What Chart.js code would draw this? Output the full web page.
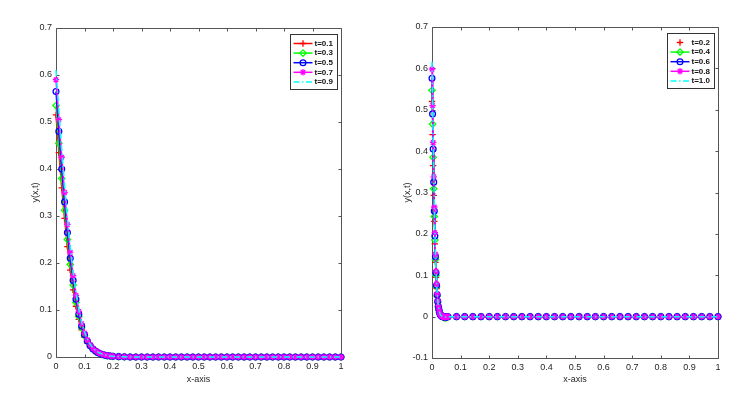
<!DOCTYPE html>
<html>
<head>
<meta charset="utf-8">
<script src="https://cdn.jsdelivr.net/npm/chart.js@4.4.0/dist/chart.umd.min.js"></script>
<style>
  body { margin: 0; background: #fff; }
  #wrap { position: relative; width: 752px; height: 397px; }
  canvas { position: absolute; top: 0; }
</style>
</head>
<body>
<div id="wrap">
  <canvas id="leftChart" width="376" height="397" style="left:0"></canvas>
  <canvas id="rightChart" width="376" height="397" style="left:376px"></canvas>
</div>
<script>
// ---- left panel (t = 0.1 ... 0.9) ----
const xLeft = [0,0.01,0.02,0.03,0.04,0.05,0.06,0.07,0.08,0.09,0.1,0.11,0.12,0.13,0.14,0.15,0.16,0.17,0.18,0.19,0.2,
  0.22,0.24,0.26,0.28,0.3,0.32,0.34,0.36,0.38,0.4,0.42,0.44,0.46,0.48,0.5,0.52,0.54,0.56,0.58,0.6,
  0.62,0.64,0.66,0.68,0.7,0.72,0.74,0.76,0.78,0.8,0.82,0.84,0.86,0.88,0.9,0.92,0.94,0.96,0.98,1];
const labelsLeft = ['t=0.1', 't=0.3', 't=0.5', 't=0.7', 't=0.9'];
const yLeft01 = [0.515,0.435,0.36,0.295,0.235,0.185,0.143,0.108,0.080,0.058,0.042,0.030,0.021,0.015,0.010,0.007,0.005,0.0035,0.0024,0.0017,0.0012,0.0006,0.0003,0.0001,
  0,0,0,0,0,0,0,0,0,0,0,0,0,0,0,0,0,0,0,0,0,0,0,0,0,0,0,0,0,0,0,0,0,0,0,0,0];
const yLeft03 = [0.535,0.455,0.38,0.312,0.25,0.197,0.153,0.116,0.086,0.062,0.045,0.032,0.023,0.016,0.011,0.008,0.0055,0.0038,0.0026,0.0018,0.0013,0.0006,0.0003,0.0001,
  0,0,0,0,0,0,0,0,0,0,0,0,0,0,0,0,0,0,0,0,0,0,0,0,0,0,0,0,0,0,0,0,0,0,0,0,0];
const yLeft05 = [0.565,0.48,0.40,0.33,0.265,0.21,0.163,0.123,0.091,0.066,0.048,0.034,0.024,0.017,0.012,0.0085,0.006,0.0042,0.0029,0.002,0.0014,0.0007,0.0003,0.0001,
  0,0,0,0,0,0,0,0,0,0,0,0,0,0,0,0,0,0,0,0,0,0,0,0,0,0,0,0,0,0,0,0,0,0,0,0,0];
const yLeft07 = [0.59,0.505,0.425,0.35,0.282,0.223,0.173,0.131,0.097,0.071,0.051,0.036,0.026,0.018,0.013,0.009,0.0064,0.0045,0.0031,0.0021,0.0015,0.0007,0.0004,0.0001,
  0,0,0,0,0,0,0,0,0,0,0,0,0,0,0,0,0,0,0,0,0,0,0,0,0,0,0,0,0,0,0,0,0,0,0,0,0];
const yLeft09 = [0.61,0.525,0.443,0.366,0.295,0.233,0.181,0.137,0.102,0.074,0.053,0.038,0.027,0.019,0.013,0.0095,0.0067,0.0047,0.0032,0.0022,0.0016,0.0008,0.0004,0.0001,
  0,0,0,0,0,0,0,0,0,0,0,0,0,0,0,0,0,0,0,0,0,0,0,0,0,0,0,0,0,0,0,0,0,0,0,0,0];

// ---- right panel (t = 0.2 ... 1.0) ----
const xRight = [0,0.002,0.004,0.006,0.008,0.01,0.012,0.014,0.016,0.018,0.02,0.022,0.024,0.026,0.028,0.03,
  0.032,0.034,0.036,0.038,0.04,0.042,0.044,0.046,0.048,0.05,0.052,0.054,0.056,
  0.0857,0.1143,0.1429,0.1714,0.2,0.2286,0.2571,0.2857,0.3143,0.3429,0.3714,0.4,0.4286,0.4571,0.4857,0.5143,
  0.5429,0.5714,0.6,0.6286,0.6571,0.6857,0.7143,0.7429,0.7714,0.8,0.8286,0.8571,0.8857,0.9143,0.9429,0.9714,1];
const labelsRight = ['t=0.2', 't=0.4', 't=0.6', 't=0.8', 't=1.0'];
const yRight02 = [0.52,0.44,0.365,0.293,0.23,0.176,0.131,0.095,0.068,0.048,0.033,0.022,0.015,0.010,0.006,0.0036,0.0022,0.0011,0.0004,-0.0002,
  -0.0005,-0.0008,-0.0009,-0.0009,-0.0008,-0.0006,-0.0004,-0.0003,-0.0002,
  0,0,0,0,0,0,0,0,0,0,0,0,0,0,0,0,0,0,0,0,0,0,0,0,0,0,0,0,0,0,0,0,0];
const yRight04 = [0.547,0.465,0.385,0.309,0.242,0.185,0.138,0.1,0.072,0.05,0.035,0.024,0.016,0.010,0.0066,0.0038,0.0024,0.0011,0.0004,-0.0008,
  -0.0015,-0.002,-0.0025,-0.0025,-0.0022,-0.0018,-0.0012,-0.0008,-0.0004,
  0,0,0,0,0,0,0,0,0,0,0,0,0,0,0,0,0,0,0,0,0,0,0,0,0,0,0,0,0,0,0,0,0];
const yRight06 = [0.576,0.49,0.405,0.325,0.255,0.195,0.145,0.106,0.076,0.053,0.037,0.025,0.017,0.011,0.007,0.004,0.0025,0.0012,0.0004,-0.0002,
  -0.0006,-0.0009,-0.001,-0.001,-0.0009,-0.0007,-0.0005,-0.0003,-0.0002,
  0,0,0,0,0,0,0,0,0,0,0,0,0,0,0,0,0,0,0,0,0,0,0,0,0,0,0,0,0,0,0,0,0];
const yRight08 = [0.598,0.51,0.421,0.338,0.265,0.203,0.151,0.11,0.079,0.055,0.038,0.026,0.018,0.011,0.0073,0.0042,0.0026,0.0012,0.0004,-0.0002,
  -0.0006,-0.0009,-0.001,-0.001,-0.0009,-0.0007,-0.0005,-0.0003,-0.0002,
  0,0,0,0,0,0,0,0,0,0,0,0,0,0,0,0,0,0,0,0,0,0,0,0,0,0,0,0,0,0,0,0,0];
const yRight10 = [0.616,0.524,0.433,0.348,0.273,0.209,0.155,0.113,0.081,0.057,0.04,0.027,0.018,0.012,0.0075,0.0043,0.0027,0.0013,0.0004,-0.0002,
  -0.0006,-0.0009,-0.001,-0.001,-0.0009,-0.0007,-0.0005,-0.0003,-0.0002,
  0,0,0,0,0,0,0,0,0,0,0,0,0,0,0,0,0,0,0,0,0,0,0,0,0,0,0,0,0,0,0,0,0];

// matlab-ish line specs: r-+, g-d, b-o, m-*, c-.
const styles = [
  { color: '#ff0000', pointStyle: 'cross', radius: 3.2 },
  { color: '#00ff00', pointStyle: 'rectRot', radius: 3.2 },
  { color: '#0000ff', pointStyle: 'circle', radius: 2.9 },
  { color: '#ff00ff', pointStyle: 'star', radius: 3.2 },
  { color: '#00ffff', pointStyle: 'circle', radius: 0, dash: [6, 2.5, 1.5, 2.5] }
];

Chart.defaults.font.family = "'Liberation Sans', Arial, sans-serif";
Chart.defaults.font.size = 9;
Chart.defaults.color = '#262626';

function toPoints(xs, ys) {
  return ys.map((v, i) => ({ x: xs[i], y: v }));
}

function buildDatasets(xs, seriesList, labels, noLineFirst) {
  return seriesList.map((ys, i) => {
    const st = styles[i];
    return {
      label: labels[i],
      data: toPoints(xs, ys),
      borderColor: st.color,
      backgroundColor: 'rgba(0,0,0,0)',
      borderWidth: 1.5,
      borderDash: st.dash || [],
      showLine: !(noLineFirst && i === 0),
      pointStyle: st.pointStyle,
      pointRadius: st.radius,
      pointBorderWidth: 1.3,
      pointBorderColor: st.color,
      pointBackgroundColor: 'rgba(0,0,0,0)',
      tension: 0,
      clip: false,
      order: 4 - i
    };
  });
}

// box around axes with inward ticks, plus a matlab style legend
const framePlugin = {
  id: 'frame',
  beforeDatasetsDraw(chart) {
    const { ctx, chartArea: a, scales } = chart;
    const L = Math.round(a.left) + 0.5, R = Math.round(a.right) + 0.5;
    const T = Math.round(a.top) + 0.5, B = Math.round(a.bottom) + 0.5;
    ctx.save();
    ctx.strokeStyle = '#555';
    ctx.lineWidth = 1;
    ctx.beginPath();
    ctx.rect(L, T, R - L, B - T);
    scales.x.ticks.forEach(t => {
      const px = Math.round(scales.x.getPixelForValue(t.value)) + 0.5;
      ctx.moveTo(px, B); ctx.lineTo(px, B - 3);
      ctx.moveTo(px, T); ctx.lineTo(px, T + 3);
    });
    scales.y.ticks.forEach(t => {
      const py = Math.round(scales.y.getPixelForValue(t.value)) + 0.5;
      ctx.moveTo(L, py); ctx.lineTo(L + 3, py);
      ctx.moveTo(R, py); ctx.lineTo(R - 3, py);
    });
    ctx.stroke();
    ctx.restore();
  },
  afterDraw(chart) {
    const { ctx, chartArea: a } = chart;
    const bx = Math.round(a.right - 51) + 0.5, by = Math.round(a.top + 6) + 0.5;
    const bw = 47, bh = 55;
    ctx.save();
    ctx.fillStyle = '#fff';
    ctx.fillRect(bx, by, bw, bh);
    ctx.strokeStyle = '#333';
    ctx.lineWidth = 1;
    ctx.strokeRect(bx, by, bw, bh);
    chart.data.datasets.forEach((ds, i) => {
      const y = by + 9 + i * 9.6;
      const x0 = bx + 3, x1 = bx + 22;
      ctx.strokeStyle = ds.borderColor;
      ctx.fillStyle = 'rgba(0,0,0,0)';
      if (ds.showLine) {
        ctx.lineWidth = ds.borderWidth;
        ctx.setLineDash(ds.borderDash);
        ctx.beginPath();
        ctx.moveTo(x0, y); ctx.lineTo(x1, y);
        ctx.stroke();
        ctx.setLineDash([]);
      }
      if (ds.pointRadius > 0) {
        ctx.lineWidth = ds.pointBorderWidth;
        Chart.helpers.drawPoint(ctx, {
          pointStyle: ds.pointStyle, rotation: 0,
          radius: ds.pointRadius, borderWidth: ds.pointBorderWidth
        }, (x0 + x1) / 2, y);
      }
      ctx.fillStyle = '#111';
      ctx.font = "bold 8px 'Liberation Sans', Arial, sans-serif";
      ctx.textBaseline = 'middle';
      ctx.textAlign = 'left';
      ctx.fillText(ds.label, bx + 24, y);
    });
    ctx.restore();
  }
};

function makeChart(id, datasets, yMin, pad) {
  return new Chart(document.getElementById(id), {
    type: 'line',
    data: { datasets },
    options: {
      responsive: false,
      animation: false,
      devicePixelRatio: 1,
      layout: { padding: { top: pad.top, right: pad.right, left: 0, bottom: 0 } },
      plugins: { legend: { display: false }, tooltip: { enabled: false } },
      scales: {
        x: {
          type: 'linear', min: 0, max: 1,
          grid: { display: false, drawTicks: false },
          border: { display: false },
          ticks: { stepSize: 0.1, padding: 4, maxRotation: 0,
            callback: v => String(+v.toFixed(1)) },
          title: { display: true, text: 'x-axis', padding: { bottom: pad.xTitle, top: 0 } },
          afterFit: s => { s.height = pad.xHeight; }
        },
        y: {
          type: 'linear', min: yMin, max: 0.7,
          grid: { display: false, drawTicks: false },
          border: { display: false },
          ticks: { stepSize: 0.1, padding: 4,
            callback: v => String(+v.toFixed(1)) },
          title: { display: true, text: 'y(x,t)', padding: { top: pad.yTitle, bottom: 0 } },
          afterFit: s => { s.width = 56; }
        }
      }
    },
    plugins: [framePlugin]
  });
}

makeChart('leftChart',
  buildDatasets(xLeft, [yLeft01, yLeft03, yLeft05, yLeft07, yLeft09], labelsLeft, false),
  0, { top: 28, right: 35, xHeight: 40, xTitle: 12, yTitle: 30 });

makeChart('rightChart',
  buildDatasets(xRight, [yRight02, yRight04, yRight06, yRight08, yRight10], labelsRight, true),
  -0.1, { top: 27, right: 34, xHeight: 39, xTitle: 12, yTitle: 26 });
</script>
</body>
</html>
